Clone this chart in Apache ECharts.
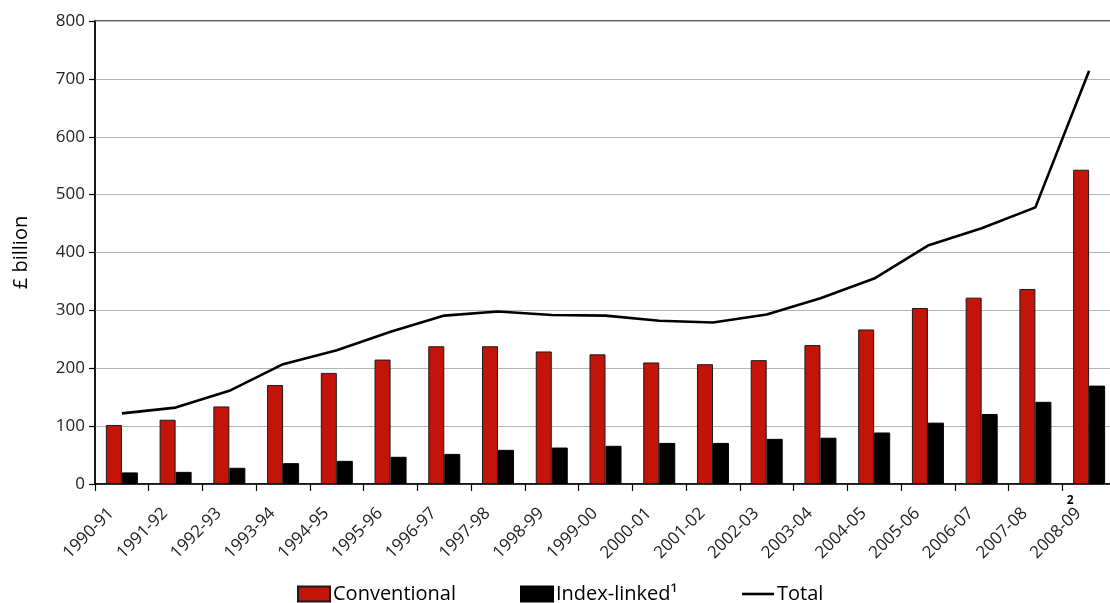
<!DOCTYPE html>
<html>
<head>
<meta charset="utf-8">
<script src="https://cdn.jsdelivr.net/npm/echarts@6/dist/echarts.min.js"></script>
<style>
  html, body { margin: 0; padding: 0; background: #fff; overflow: hidden; }
  #chart { width: 1110px; height: 603px; }
</style>
</head>
<body>
<div id="chart"></div>
<script>
const years = ['1990-91', '1991-92', '1992-93', '1993-94', '1994-95', '1995-96', '1996-97',
  '1997-98', '1998-99', '1999-00', '2000-01', '2001-02', '2002-03', '2003-04', '2004-05',
  '2005-06', '2006-07', '2007-08', '2008-09']
const conventional = [102, 111, 134, 171, 192, 215, 238, 238, 229, 224, 210, 207, 214, 240, 267, 304, 322, 337, 543]
const indexLinked = [20, 21, 28, 36, 40, 47, 52, 59, 63, 66, 71, 71, 78, 80, 89, 106, 121, 142, 170]
const total = [122, 132, 161, 207, 231, 263, 291, 298, 292, 291, 282, 279, 293, 321, 355, 412, 442, 478, 714]
const yTicks = [0, 100, 200, 300, 400, 500, 600, 700, 800]

const font = '"Open Sans", "DejaVu Sans", sans-serif'
const chart = echarts.init(document.getElementById('chart'), null, { renderer: 'canvas' })

const legendBase = {
  top: 584,
  padding: 0,
  itemWidth: 32,
  itemHeight: 15,
  itemGap: 6,
  textStyle: { fontFamily: font, fontSize: 20, color: '#000', padding: [0, 0, 0, -2] }
}

chart.setOption({
  animation: false,
  backgroundColor: '#fff',
  grid: {
    left: 95,
    width: 1021,
    top: 21,
    bottom: 119,
    outerBoundsMode: 'none',
    containLabel: false,
    show: true,
    borderColor: '#333',
    borderWidth: 1.5,
    backgroundColor: 'transparent'
  },
  legend: [
    Object.assign({}, legendBase, { left: 297, icon: 'rect', data: ['Conventional'] }),
    Object.assign({}, legendBase, { left: 520, icon: 'rect', data: ['Index-linked¹'] }),
    Object.assign({}, legendBase, { left: 742, icon: 'rect', itemHeight: 2.6, data: ['Total'] })
  ],
  xAxis: {
    type: 'category',
    data: years,
    boundaryGap: true,
    axisLine: { lineStyle: { color: '#000', width: 1.5 } },
    axisTick: { show: true, length: 7, lineStyle: { color: '#000', width: 1.2 } },
    axisLabel: {
      rotate: 45,
      interval: 0,
      margin: 16,
      padding: [0, 15, 0, 0],
      fontFamily: font,
      fontSize: 17,
      color: '#222'
    }
  },
  yAxis: {
    type: 'value',
    min: yTicks[0],
    max: yTicks[yTicks.length - 1],
    interval: 100,
    name: '£ billion',
    nameLocation: 'middle',
    nameGap: 64,
    nameTextStyle: { fontFamily: font, fontSize: 20, color: '#000', fontWeight: 500 },
    axisLine: { show: true, lineStyle: { color: '#000', width: 1.5 } },
    axisTick: { show: true, length: 6, lineStyle: { color: '#000', width: 1.2 } },
    axisLabel: { fontFamily: font, fontSize: 17, color: '#222', margin: 10 },
    splitLine: { show: true, lineStyle: { color: '#b4b4b4', width: 1.2 } }
  },
  series: [
    {
      name: 'Conventional',
      type: 'bar',
      data: conventional,
      barWidth: 16,
      barGap: '0%',
      itemStyle: { color: '#c21408', borderColor: '#1a1a1a', borderWidth: 1 }
    },
    {
      name: 'Index-linked¹',
      type: 'bar',
      data: indexLinked,
      barWidth: 16,
      barGap: '0%',
      itemStyle: { color: '#000', borderColor: '#000', borderWidth: 1 }
    },
    {
      name: 'Total',
      type: 'line',
      data: total,
      symbol: 'none',
      lineStyle: { color: '#000', width: 2.6 },
      itemStyle: { color: '#000' },
      z: 5
    }
  ]
})

// footnote marker "2" beside the last category label
const lastIdx = years.length - 1
const pt = chart.convertToPixel({ xAxisIndex: 0, yAxisIndex: 0 }, [lastIdx, 0])
chart.setOption({
  graphic: [{
    type: 'text',
    x: pt[0] - 19,
    y: pt[1] + 11,
    style: { text: '2', font: 'bold 12px ' + font, fill: '#000', textAlign: 'center' }
  }]
})

window.addEventListener('resize', () => chart.resize())
</script>
</body>
</html>
